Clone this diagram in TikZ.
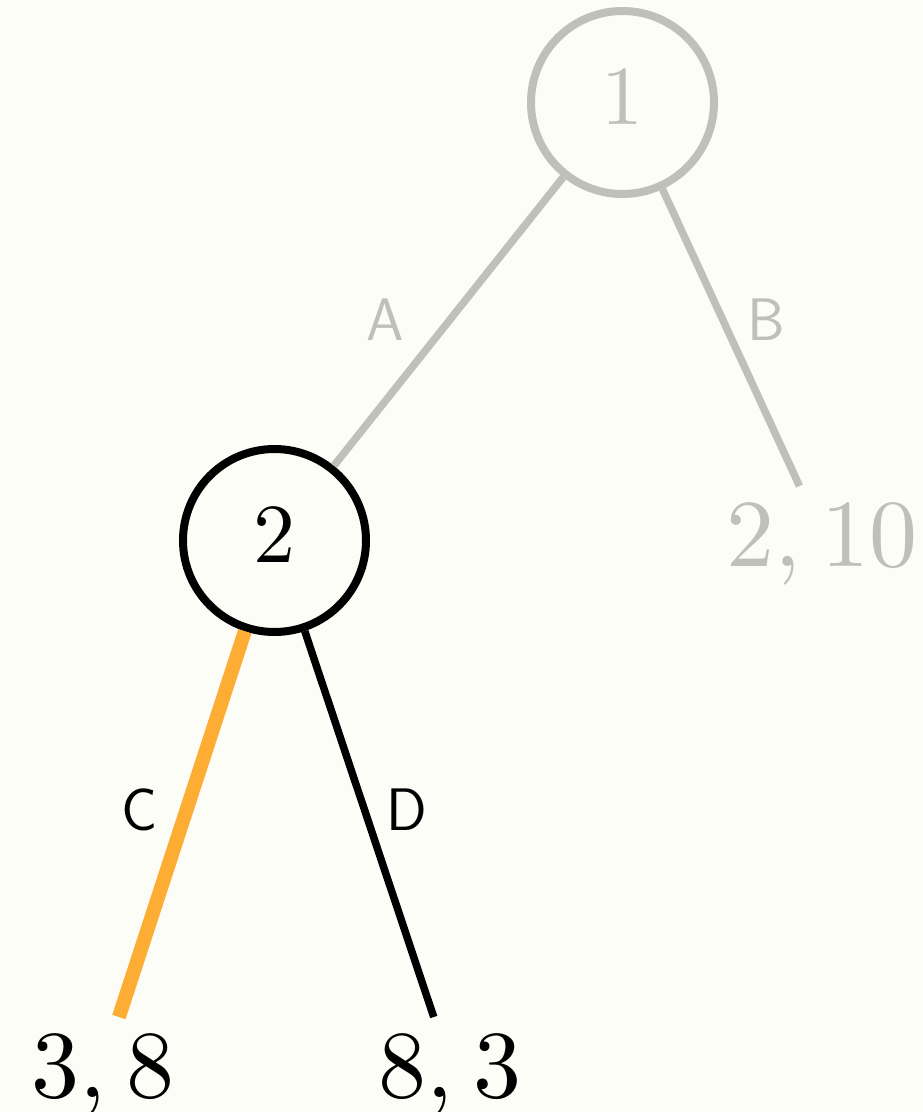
\documentclass[tikz,border=0pt]{standalone}
\usepackage{fontspec}
\newfontfamily\payofffont{lmroman10-regular}[Extension=.otf]
\definecolor{paper}{RGB}{253,253,247}
\definecolor{faded}{RGB}{192,192,186}
\definecolor{chosen}{RGB}{253,172,52}
\tikzset{
  decision/.style={draw, circle, line width=8pt, minimum size=183pt, inner sep=0pt,
    text height=54pt, text depth=11pt, font=\payofffont\fontsize{84}{90}\selectfont},
  payoff/.style={inner xsep=0pt, inner ysep=18pt, outer sep=0pt,
    text height=62pt, text depth=0pt, font=\payofffont\fontsize{96}{100}\selectfont},
  move/.style={font=\sffamily\fontsize{60}{64}\selectfont},
  branch/.style={line width=7.5pt},
}
\begin{document}
\begin{tikzpicture}[x=1pt,y=-1pt]
\fill[paper] (0,0) rectangle (923,1112);
\useasboundingbox (0,0) rectangle (923,1112);
\node[decision, faded] (one) at (622.5,102.5) {1};
\node[decision] (two) at (274.5,540.5) {2};
\node[payoff, faded] (ten) at (822,535) {2,\hspace{.22em}10};
\node[payoff] (left) at (103,1066) {3,\hspace{.22em}8};
\node[payoff] (right) at (450,1066) {8,\hspace{.22em}3};
\draw[branch, faded] (one) -- (two);
\draw[branch, faded] (one) -- (ten);
\draw[branch, chosen, line width=14pt] (two) -- (left);
\draw[branch] (two) -- (right);
\node[move, faded] (mA) at (385,320) {A};
\node[move, faded] (mB) at (766,320) {B};
\node[move] (mC) at (140,810) {C};
\node[move] (mD) at (407,810) {D};
\end{tikzpicture}
\end{document}
